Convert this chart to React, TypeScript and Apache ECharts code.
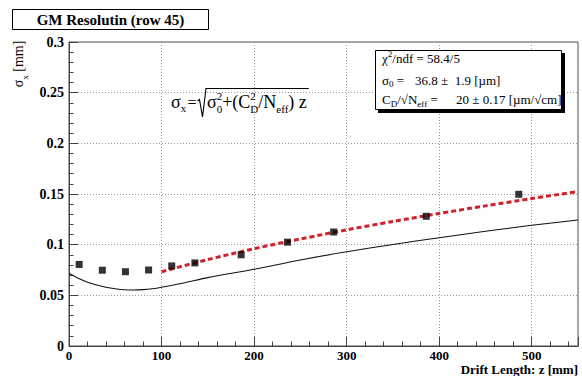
import React, { useEffect, useRef } from 'react';
import * as echarts from 'echarts';

// measured points
const measZ = [11, 36, 61, 86, 111, 136, 186, 236, 286, 386, 486];
const measSigma = [0.0805, 0.0748, 0.0733, 0.075, 0.079, 0.082, 0.09, 0.1025, 0.1125, 0.128, 0.1497];

// red dotted fit line
const fitZ = [100, 150, 200, 250, 300, 350, 400, 450, 500, 550];
const fitSigma = [0.0733, 0.0853, 0.096, 0.1056, 0.1146, 0.1229, 0.1308, 0.1383, 0.1455, 0.1525];

// black solid curve
const curveZ = [0, 10, 20, 30, 40, 50, 60, 70, 80, 90, 100, 125, 150, 200, 250, 300, 350, 400, 450, 500, 550];
const curveSigma = [0.0717, 0.0668, 0.063, 0.0602, 0.058, 0.0565, 0.0555, 0.0553, 0.0556, 0.0565, 0.058, 0.0625, 0.0675, 0.0757, 0.0849, 0.093, 0.1002, 0.1069, 0.1132, 0.1191, 0.1243];

const titleText = 'GM Resolutin (row 45)';
const xName = 'Drift Length: z [mm]';

const SERIF = 'Liberation Serif, Times New Roman, serif';

type Tok = { t: string; s: number; dy?: number; stack?: boolean; x?: number; w?: string };

function layout(ctx: CanvasRenderingContext2D, tokens: Tok[], x0: number, base: number) {
  const els: any[] = [];
  let x = x0;
  let ps = x0;
  let pw = 0;
  for (const k of tokens) {
    ctx.font = `${k.w || 'normal'} ${k.s}px "Liberation Serif"`;
    const w = ctx.measureText(k.t).width;
    let start: number;
    if (k.x !== undefined) {
      start = k.x;
      x = k.x + w;
    } else if (k.stack) {
      start = ps;
      x = ps + Math.max(pw, w);
    } else {
      start = x;
      x += w;
    }
    ps = start;
    pw = w;
    els.push({
      type: 'text',
      x: start,
      y: base + (k.dy || 0) - 0.34 * k.s,
      z: 100,
      silent: true,
      style: {
        text: k.t,
        fontSize: k.s,
        fontFamily: SERIF,
        fontWeight: k.w || 'normal',
        fill: '#000',
        align: 'left',
        verticalAlign: 'middle',
      },
    });
  }
  return { els, end: x };
}

export default function App() {
  const ref = useRef<HTMLDivElement>(null);
  useEffect(() => {
    if (!ref.current) return;
    const chart = echarts.init(ref.current, null, { renderer: 'svg' });
    const ctx = document.createElement('canvas').getContext('2d') as CanvasRenderingContext2D;

    // formula
    const S = 18;
    const s = 11;
    const fA = layout(ctx, [
      { t: 'σ', s: S },
      { t: 'x', s: 11, dy: 4 },
      { t: '=', s: 16, x: 187.5 },
    ], 171, 108);
    const fB = layout(ctx, [
      { t: 'σ', s: S },
      { t: '0', s, dy: 5 },
      { t: '2', s, dy: -8, stack: true },
      { t: '+(C', s: S },
      { t: 'D', s, dy: 5 },
      { t: '2', s, dy: -8, stack: true },
      { t: '/N', s: S },
      { t: 'eff', s, dy: 5 },
      { t: ') z', s: S },
    ], 207, 108);

    // stats
    const L1 = layout(ctx, [
      { t: 'χ', s: 13 },
      { t: '2', s: 9, dy: -5 },
      { t: '/ndf = 58.4/5', s: 13 },
    ], 382, 62.5);
    const L2 = layout(ctx, [
      { t: 'σ', s: 13 },
      { t: '0', s: 9, dy: 3 },
      { t: ' =', s: 13 },
      { t: '36.8 ±  1.9 [µm]', s: 13, x: 415 },
    ], 382, 84.5);
    const L3 = layout(ctx, [
      { t: 'C', s: 13 },
      { t: 'D', s: 9, dy: 3 },
      { t: '/√', s: 13 },
      { t: 'N', s: 13 },
      { t: 'eff', s: 9, dy: 3 },
      { t: ' =', s: 13 },
      { t: '20 ± 0.17 [µm/√cm]', s: 13, x: 456 },
    ], 382, 104);

    const option: any = {
      animation: false,
      backgroundColor: '#fff',
      grid: {
        left: 69,
        right: 4,
        top: 42,
        bottom: 30,
        show: true,
        borderColor: '#555',
        borderWidth: 1,
        backgroundColor: 'transparent',
      },
      xAxis: {
        type: 'value',
        min: 0,
        max: 550,
        interval: 100,
        axisLine: { show: true, lineStyle: { color: '#444', width: 1 } },
        axisTick: { show: true, inside: true, length: 9, lineStyle: { color: '#444' } },
        minorTick: { show: true, splitNumber: 5, length: 4.5, lineStyle: { color: '#444' } },
        splitLine: { show: true, lineStyle: { color: '#999', type: [1, 2], width: 1 } },
        axisLabel: {
          show: true,
          showMaxLabel: false,
          margin: 3,
          color: '#000',
          fontFamily: SERIF,
          fontWeight: 'bold',
          fontSize: 13,
        },
      },
      yAxis: {
        type: 'value',
        min: 0,
        max: 0.3,
        interval: 0.05,
        axisLine: { show: true, lineStyle: { color: '#444', width: 1 } },
        axisTick: { show: true, inside: true, length: 9, lineStyle: { color: '#444' } },
        minorTick: { show: true, splitNumber: 5, length: 4.5, lineStyle: { color: '#444' } },
        splitLine: { show: true, lineStyle: { color: '#999', type: [1, 2], width: 1 } },
        axisLabel: {
          show: true,
          margin: 5,
          color: '#000',
          fontFamily: SERIF,
          fontWeight: 'bold',
          fontSize: 14,
        },
      },
      series: [
        {
          type: 'line',
          data: curveZ.map((z, i) => [z, curveSigma[i]]),
          smooth: 0.3,
          showSymbol: false,
          symbol: 'none',
          lineStyle: { color: '#111', width: 1.1 },
          z: 2,
        },
        {
          type: 'line',
          data: fitZ.map((z, i) => [z, fitSigma[i]]),
          smooth: 0.3,
          showSymbol: false,
          symbol: 'none',
          lineStyle: { color: '#d0222c', width: 3, type: [5, 3] },
          z: 3,
        },
        {
          type: 'scatter',
          data: measZ.map((z, i) => [z, measSigma[i]]),
          symbol: 'rect',
          symbolSize: 7,
          itemStyle: { color: '#000' },
          z: 4,
        },
      ],
      graphic: [
        // title box
        {
          type: 'rect',
          z: 100,
          shape: { x: 12.5, y: 9.5, width: 196, height: 20 },
          style: { fill: '#fff', stroke: '#000', lineWidth: 1 },
        },
        {
          type: 'text',
          z: 101,
          x: 110.5,
          y: 19.5,
          style: {
            text: titleText,
            fontFamily: SERIF,
            fontWeight: 'bold',
            fontSize: 15,
            fill: '#000',
            align: 'center',
            verticalAlign: 'middle',
          },
        },
        // y axis name
        {
          type: 'text',
          z: 100,
          x: 20,
          y: 64,
          rotation: Math.PI / 2,
          style: {
            text: '{a|σ}{b|x}{a| [mm]}',
            align: 'center',
            verticalAlign: 'middle',
            rich: {
              a: { fontFamily: SERIF, fontSize: 14, lineHeight: 18, fill: '#000', verticalAlign: 'top' },
              b: { fontFamily: SERIF, fontSize: 9, lineHeight: 9, fill: '#000', verticalAlign: 'bottom' },
            },
          },
        },
        // x axis name
        {
          type: 'text',
          z: 100,
          x: 578,
          y: 369,
          style: {
            text: xName,
            fontFamily: SERIF,
            fontWeight: 'bold',
            fontSize: 13,
            fill: '#000',
            align: 'right',
            verticalAlign: 'middle',
          },
        },
        // formula
        ...fA.els,
        {
          type: 'polyline',
          z: 100,
          shape: { points: [[197.5, 101], [199.5, 99.5], [202.5, 117], [206, 88.5], [fB.end + 2, 88.5]] },
          style: { stroke: '#000', lineWidth: 1.1, fill: 'none' },
        },
        ...fB.els,
        // stats box
        {
          type: 'rect',
          z: 99,
          shape: { x: 378, y: 53, width: 187, height: 60 },
          style: { fill: '#000' },
        },
        {
          type: 'rect',
          z: 99,
          shape: { x: 375.5, y: 50.5, width: 186, height: 59 },
          style: { fill: '#fff', stroke: '#000', lineWidth: 1 },
        },
        ...L1.els,
        ...L2.els,
        ...L3.els,
      ],
    };
    chart.setOption(option);
    return () => chart.dispose();
  }, []);
  return (
    <div
      ref={ref}
      style={{ position: 'fixed', left: 0, top: 0, width: 582, height: 376, background: '#fff' }}
    />
  );
}
